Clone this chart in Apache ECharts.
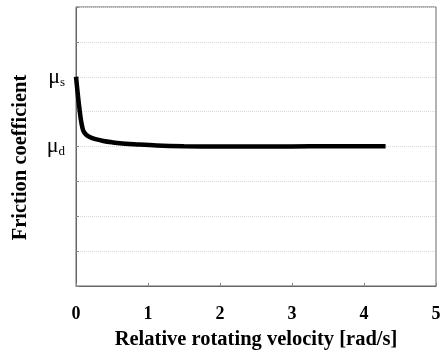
<!DOCTYPE html>
<html>
<head>
<meta charset="utf-8">
<script src="https://cdn.jsdelivr.net/npm/echarts@6/dist/echarts.min.js"></script>
<style>
  html, body { margin: 0; padding: 0; background: #fff; }
  #main { width: 446px; height: 352px; }
</style>
</head>
<body>
<div id="main"></div>
<script>
// friction curve
var velocity = [0, 0.02, 0.04, 0.07, 0.1, 0.14, 0.19, 0.27, 0.38, 0.5, 0.61, 0.84, 1.12, 1.5, 2, 2.5, 3, 3.5, 4, 4.3];
var friction = [6, 5.6, 5.22, 4.74, 4.46, 4.34, 4.27, 4.21, 4.16, 4.12, 4.09, 4.06, 4.03, 4.01, 4.0, 4.0, 4.0, 4.01, 4.01, 4.01];

// y tick labels (only mu_s and mu_d are labelled)
var yLabels = { 6: '{m|\u03bc}{s|s}', 4: '{m|\u03bc}{s|d}' };

var serif = 'Liberation Serif';

var chartDom = document.getElementById('main');
var myChart = echarts.init(chartDom);
var option;

option = {
  backgroundColor: '#fff',
  animation: false,
  grid: {
    left: 76,
    right: 10,
    top: 7,
    bottom: 66,
    outerBoundsMode: 'none',
    show: true,
    borderColor: '#666',
    borderWidth: 1
  },
  xAxis: {
    type: 'value',
    min: 0,
    max: 5,
    interval: 1,
    name: 'Relative rotating velocity [rad/s]',
    nameLocation: 'middle',
    nameGap: 43,
    nameTextStyle: {
      fontFamily: serif,
      fontWeight: 'bold',
      fontSize: 20.5,
      color: '#000'
    },
    axisLine: { show: true, lineStyle: { color: '#666', width: 1 } },
    axisTick: { show: true, inside: true, length: 3, lineStyle: { color: '#888' } },
    axisLabel: {
      margin: 19,
      fontFamily: serif,
      fontWeight: 'bold',
      fontSize: 18,
      color: '#000'
    },
    splitLine: { show: false }
  },
  yAxis: {
    type: 'value',
    min: 0,
    max: 8,
    interval: 1,
    name: 'Friction coefficient',
    nameLocation: 'middle',
    nameGap: 45,
    nameTextStyle: {
      fontFamily: serif,
      fontWeight: 'bold',
      fontSize: 20.5,
      color: '#000',
      padding: [0, 22, 0, 0]
    },
    axisLine: { show: true, lineStyle: { color: '#666', width: 1 } },
    axisTick: { show: true, inside: true, length: 3, lineStyle: { color: '#888' } },
    axisLabel: {
      margin: 11,
      fontFamily: serif,
      color: '#000',
      formatter: function (v) {
        return yLabels[v] || '';
      },
      rich: {
        m: { fontFamily: serif, fontSize: 22, color: '#000' },
        s: { fontFamily: serif, fontSize: 13, color: '#000', padding: [11, 0, 0, 0] }
      }
    },
    splitLine: { show: true, lineStyle: { color: '#d8d8d8', type: 'dotted', width: 1 } }
  },
  series: [
    {
      type: 'line',
      data: velocity.map(function (v, i) { return [v, friction[i]]; }),
      smooth: 0.3,
      symbol: 'none',
      lineStyle: { color: '#000', width: 4.5 }
    }
  ]
};

option && myChart.setOption(option);
</script>
</body>
</html>
